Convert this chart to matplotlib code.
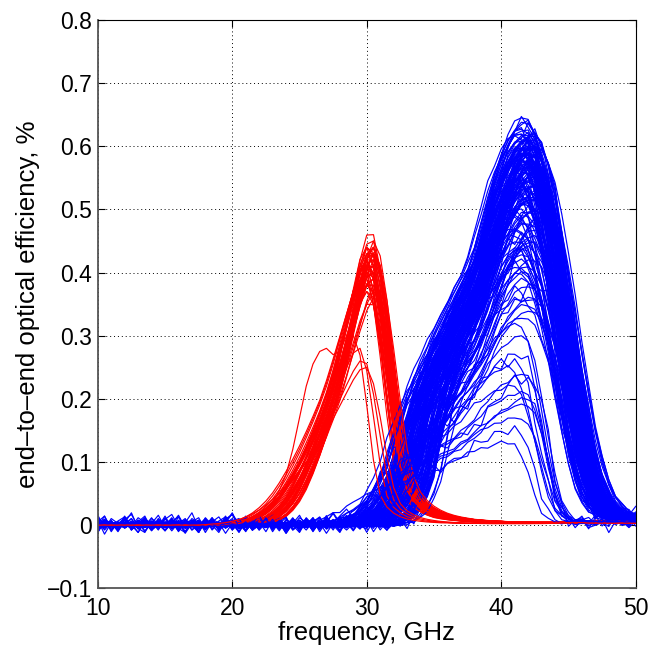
import numpy as np
import matplotlib
matplotlib.use("Agg")
import matplotlib.pyplot as plt

plt.rcParams['font.family'] = ['Liberation Sans', 'DejaVu Sans']

# frequency grid, GHz
freq = np.arange(10.0, 50.01, 0.5)

red_template = [0]*22 + [
    0.001, 0.003, 0.005, 0.009, 0.015, 0.024, 0.036, 0.052, 0.072, 0.095,
    0.120, 0.148, 0.178, 0.210, 0.250, 0.295, 0.340, 0.385, 0.420, 0.420,
    0.365, 0.285, 0.195, 0.115, 0.068, 0.046, 0.034, 0.026, 0.020, 0.016,
    0.013, 0.011, 0.009, 0.008, 0.007] + [
    0.006, 0.006, 0.005, 0.005, 0.005, 0.004, 0.004, 0.004, 0.004, 0.004,
    0.004, 0.004, 0.004, 0.004, 0.004, 0.004, 0.005, 0.005, 0.006, 0.007,
    0.007, 0.007, 0.006, 0.005]
red_peak_f = 30.25

blue_template = [0]*42 + [
    0.003, 0.006, 0.012, 0.022, 0.038, 0.065, 0.100, 0.155, 0.205, 0.240,
    0.270, 0.300, 0.325, 0.350, 0.375, 0.400, 0.440, 0.485, 0.525, 0.555,
    0.580, 0.595, 0.600, 0.585, 0.550, 0.500, 0.435, 0.360, 0.280, 0.205,
    0.140, 0.090, 0.056, 0.036, 0.024, 0.017, 0.013, 0.011, 0.010]
blue_peak_f = 42.0

# odd red detector with an early shoulder
red_odd = [0]*22 + [
    0.002, 0.005, 0.010, 0.020, 0.035, 0.055, 0.080, 0.120, 0.170, 0.220,
    0.255, 0.275, 0.280, 0.270, 0.275, 0.300, 0.330, 0.360, 0.380, 0.370,
    0.300, 0.200, 0.120, 0.070, 0.045, 0.030, 0.022, 0.016, 0.012] + [
    0.010, 0.009, 0.008, 0.007, 0.007, 0.006, 0.006, 0.005, 0.005, 0.005,
    0.005, 0.004, 0.004, 0.004, 0.004, 0.004, 0.004, 0.004, 0.004, 0.004,
    0.005, 0.005, 0.005, 0.006, 0.006, 0.007, 0.007, 0.006, 0.006, 0.005]

# ---- per-detector parameters: peak value, shift (GHz), left/right width ----
red_amp = [0.42, 0.44, 0.40, 0.43, 0.38, 0.45, 0.41, 0.39, 0.43, 0.42,
           0.36, 0.44, 0.40, 0.46, 0.41, 0.43, 0.37, 0.42, 0.44, 0.39,
           0.41, 0.43, 0.40, 0.45, 0.38, 0.42, 0.44, 0.41, 0.35, 0.43,
           0.40, 0.42, 0.44, 0.39, 0.41, 0.43, 0.37, 0.42, 0.40, 0.44,
           0.41, 0.38, 0.43, 0.42, 0.40, 0.39, 0.44, 0.41, 0.43, 0.37,
           0.28, 0.26, 0.30, 0.25]
red_shift = [0.0, 0.2, -0.3, 0.1, -0.1, 0.3, -0.4, 0.2, 0.0, -0.2,
             0.4, -0.1, 0.1, 0.0, -0.3, 0.3, -0.2, 0.1, 0.2, -0.4,
             0.0, 0.3, -0.1, 0.1, 0.4, -0.3, 0.2, -0.2, 0.0, 0.1,
             -0.4, 0.3, -0.1, 0.2, 0.0, -0.2, 0.4, -0.3, 0.1, 0.2,
             -0.1, 0.0, 0.3, -0.2, 0.1, 0.2, -0.3, 0.0, 0.3, -0.1,
             -0.8, -0.5, -1.2, -0.3]
red_wl = [1.0, 0.9, 1.1, 0.95, 1.15, 0.88, 1.05, 1.2, 0.92, 1.0,
          1.1, 0.85, 1.03, 0.97, 1.18, 0.9, 1.08, 1.0, 0.93, 1.12,
          0.96, 1.05, 0.87, 1.1, 1.0, 0.94, 1.15, 0.9, 1.06, 0.98,
          1.2, 0.92, 1.02, 1.08, 0.86, 1.0, 1.13, 0.95, 1.04, 0.9,
          1.1, 0.97, 1.0, 1.16, 0.93, 1.22, 0.89, 1.07, 0.99, 1.14,
          1.1, 1.2, 1.0, 1.3]
red_wr = [1.0, 1.05, 0.92, 1.1, 0.95, 1.0, 1.08, 0.9, 1.03, 0.97,
          1.12, 0.94, 1.0, 1.06, 0.9, 1.02, 0.96, 1.1, 0.93, 1.0,
          1.05, 0.88, 1.08, 0.97, 1.0, 1.13, 0.92, 1.04, 0.95, 1.1,
          0.9, 1.0, 1.07, 0.94, 1.02, 1.11, 0.96, 1.0, 0.89, 1.06,
          0.98, 1.03, 0.93, 1.0, 1.08, 0.95, 1.04, 0.91, 1.1, 1.0,
          0.75, 0.8, 0.7, 0.85]

blue_amp = [0.58, 0.61, 0.55, 0.63, 0.52, 0.60, 0.57, 0.49, 0.62, 0.59,
            0.54, 0.64, 0.56, 0.47, 0.60, 0.58, 0.53, 0.61, 0.44, 0.57,
            0.62, 0.55, 0.59, 0.50, 0.63, 0.56, 0.60, 0.41, 0.58, 0.54,
            0.61, 0.57, 0.52, 0.65, 0.59, 0.46, 0.60, 0.55, 0.62, 0.58,
            0.53, 0.60, 0.38, 0.57, 0.61, 0.56, 0.63, 0.51, 0.59, 0.55,
            0.62, 0.48, 0.58, 0.60, 0.54, 0.64, 0.57, 0.43, 0.61, 0.56,
            0.59, 0.52, 0.62, 0.58, 0.35, 0.60, 0.55, 0.63, 0.57, 0.50,
            0.61, 0.59, 0.54, 0.45, 0.62, 0.58, 0.56, 0.60, 0.53, 0.64,
            0.57, 0.40, 0.61, 0.55, 0.59, 0.62, 0.48, 0.58, 0.60, 0.56,
            0.45, 0.52, 0.39, 0.58, 0.47, 0.61, 0.42, 0.55, 0.50, 0.36,
            0.60, 0.44, 0.53, 0.33, 0.57, 0.49, 0.62, 0.41, 0.54, 0.46,
            0.51, 0.59, 0.37, 0.48, 0.56, 0.43, 0.60, 0.52, 0.40, 0.58,
            0.55, 0.46, 0.61, 0.50, 0.34, 0.57, 0.44, 0.53, 0.62, 0.49,
            0.42, 0.56, 0.51, 0.59, 0.47, 0.38, 0.54, 0.60, 0.45, 0.52,
            0.58, 0.41, 0.49, 0.55, 0.61, 0.44, 0.57, 0.36, 0.53, 0.50,
            0.27, 0.24, 0.22, 0.20, 0.17, 0.15, 0.25, 0.19, 0.30, 0.13,
            0.23, 0.32, 0.21, 0.26]
blue_shift = [-0.3, 0.2, -0.6, 0.0, 0.5, -0.2, 0.8, -0.9, 0.1, -0.4,
              0.4, -0.1, -0.7, 0.6, 0.3, -0.5, 0.9, 0.0, -0.3, 0.2,
              -0.8, 0.5, -0.1, 0.7, -0.4, 0.1, 0.4, -0.6, -0.2, 0.8,
              0.0, -0.5, 0.3, -0.3, 0.6, -0.9, 0.2, -0.1, 0.5, -0.7,
              1.0, -0.2, 0.1, 0.4, -0.4, 0.7, -0.6, 0.0, 0.3, -0.8,
              0.6, -0.3, 0.2, -0.5, 0.9, -0.1, 0.4, -0.7, 0.1, 0.5,
              -0.2, 0.8, -0.4, 0.3, 0.0, -0.6, 0.6, -0.2, 0.2, -0.9,
              0.5, -0.3, 0.7, 0.1, -0.5, 0.4, -0.1, 0.9, -0.7, 0.0,
              0.3, -0.4, 0.6, -0.8, 0.2, -0.2, 1.1, -0.5, 0.4, 0.1,
              -0.6, 0.3, -0.2, 0.7, -0.9, 0.0, 0.5, -0.4, 0.2, -0.1,
              0.8, -0.5, 0.1, -0.3, 0.6, -0.7, 0.3, 0.0, -0.2, 0.4,
              -0.1, 0.5, -0.8, 0.2, 0.9, -0.4, 0.0, 0.6, -0.6, 0.3,
              0.1, -0.3, 0.7, -0.5, 0.4, -0.1, 0.2, -0.9, 0.5, 0.0,
              -0.4, 0.6, -0.2, 0.3, -0.7, 0.8, -0.5, 0.1, 0.4, -0.3,
              0.2, -0.6, 0.9, -0.1, 0.5, -0.8, 0.0, 0.3, -0.4, 0.7,
              -0.4, -0.1, -1.0, 0.2, -0.6, -0.8, -1.4, 0.0, -0.3, -1.2,
              0.4, -0.7, -0.2, -0.9]
blue_wl = [1.0, 0.9, 1.1, 0.95, 1.25, 1.15, 0.9, 1.0, 1.2, 0.85,
           1.3, 0.95, 1.1, 1.0, 0.9, 1.15, 1.4, 1.05, 1.0, 0.88,
           1.1, 1.2, 0.92, 1.18, 0.97, 1.35, 0.9, 1.1, 1.0, 1.25,
           1.12, 0.9, 1.3, 1.0, 0.87, 1.2, 0.98, 1.08, 1.38, 1.0,
           1.45, 1.1, 1.05, 0.9, 1.15, 1.3, 0.92, 1.07, 0.97, 1.13,
           1.0, 0.88, 1.1, 0.95, 1.32, 1.17, 0.9, 1.05, 1.22, 0.93,
           1.1, 0.97, 1.2, 0.9, 1.05, 1.0, 1.28, 1.12, 0.98, 1.06,
           0.9, 1.15, 1.35, 0.95, 1.08, 0.92, 1.1, 1.4, 0.96, 1.04,
           1.13, 0.9, 1.0, 1.07, 0.94, 1.1, 1.3, 1.02, 0.91, 1.16,
           1.2, 1.05, 0.95, 1.3, 1.1, 1.0, 1.25, 0.9, 1.15, 1.4,
           1.35, 1.0, 1.2, 0.95, 1.1, 1.28, 0.92, 1.05, 1.18, 1.0,
           1.08, 1.3, 0.98, 1.15, 1.42, 0.9, 1.1, 1.22, 1.0, 1.05,
           0.95, 1.25, 1.12, 1.0, 1.33, 0.9, 1.18, 1.05, 1.27, 1.1,
           1.2, 1.0, 1.38, 0.93, 1.1, 1.26, 0.97, 1.15, 1.05, 1.3,
           1.02, 1.22, 0.9, 1.12, 1.35, 1.0, 1.17, 1.08, 0.95, 1.28,
           1.3, 1.2, 1.4, 1.25, 1.5, 1.35, 1.1, 1.45, 1.2, 1.6,
           1.3, 1.15, 1.4, 1.25]
blue_wr = [1.0, 1.05, 0.95, 1.1, 0.9, 1.0, 1.08, 0.92, 1.02, 0.97,
           1.12, 0.95, 1.0, 0.88, 1.06, 0.98, 1.1, 0.93, 1.0, 1.04,
           0.9, 1.07, 1.0, 0.96, 1.13, 0.92, 1.03, 0.98, 1.09, 0.94,
           1.0, 1.05, 0.9, 1.11, 0.97, 1.02, 0.93, 1.08, 1.0, 0.95,
           1.06, 0.91, 1.0, 1.12, 0.96, 1.03, 0.89, 1.07, 0.99, 1.04,
           0.94, 1.1, 0.98, 1.02, 0.9, 1.06, 1.0, 0.95, 1.13, 0.97,
           1.03, 0.92, 1.08, 1.0, 0.96, 1.1, 0.94, 1.05, 0.9, 1.02,
           1.07, 0.98, 0.93, 1.11, 1.0, 0.95, 1.04, 0.9, 1.09, 0.97,
           1.0, 1.06, 0.92, 1.03, 0.98, 1.12, 0.95, 1.0, 1.07, 0.93,
           0.96, 1.04, 1.1, 0.91, 1.0, 1.08, 0.94, 1.02, 0.89, 1.05,
           1.09, 0.93, 1.0, 1.06, 0.97, 1.11, 0.9, 1.03, 0.99, 1.07,
           0.92, 1.02, 1.08, 0.95, 1.0, 1.13, 0.96, 1.04, 0.91, 1.06,
           1.05, 0.97, 1.0, 1.1, 0.93, 1.03, 1.08, 0.94, 1.01, 0.9,
           0.98, 1.07, 0.92, 1.04, 1.11, 0.96, 1.0, 1.06, 0.93, 1.09,
           1.03, 0.95, 1.08, 0.99, 0.92, 1.05, 1.1, 0.97, 1.02, 0.94,
           0.55, 0.5, 0.6, 0.45, 0.65, 0.5, 0.7, 0.55, 0.6, 0.5,
           0.45, 0.65, 0.55, 0.6]

# measured baseline ripple patterns (units of 0.01)
noise_a = [0.5, -0.3, 0.8, 0.2, -0.6, 0.4, 1.0, -0.2, 0.3,
           -0.8, 0.6, 0.1, -0.4, 0.9, -0.1, 0.5, -0.7, 0.2,
           1.2, -0.3, 0.4, -0.5, 0.7, 0.0, -0.9, 0.6, 0.3,
           -0.2, 1.1, -0.4, 0.2, 0.8, -0.6, 0.5, -0.1, 0.9,
           -0.5, 0.3, 0.6, -0.8, 0.4, 0.1, -0.3, 0.7, -0.2,
           0.5, 1.0, -0.6, 0.2, 0.4, -0.4, 0.8, -0.1, 0.3,
           -0.7, 0.6, 0.2, -0.5, 0.9, 0.0, -0.3, 0.5, -0.6,
           0.7, 0.1, -0.2, 0.4, -0.8, 0.6, 0.3, -0.1, 0.5,
           -0.4, 0.2, 0.8, -0.5, 0.3, 0.1, -0.2, 0.4, 0.2]
noise_b = [-0.4, 0.2, -0.9, 0.5, 0.1, -0.3, 0.7, 1.3, -0.2,
           0.4, -0.6, 0.0, 0.8, -0.5, 0.3, -1.0, 0.2, 0.6,
           -0.1, 0.9, -0.4, 0.3, 1.4, 0.1, -0.6, 0.2, -0.3,
           0.7, -0.8, 0.4, 0.0, -0.2, 0.9, 0.3, -0.7, 0.5,
           0.1, -0.4, 1.0, -0.3, 0.2, 0.6, -0.9, 0.4, 0.0,
           -0.2, 0.5, 0.8, -0.6, 0.3, -0.1, 0.7, -0.4, 0.2,
           0.9, -0.5, 0.1, 0.4, -0.7, 0.3, 0.6, -0.2, 0.0,
           -0.5, 0.8, 0.2, -0.3, 0.5, -0.1, 0.7, -0.6, 0.3,
           0.1, -0.4, 0.6, 0.0, -0.2, 0.5, -0.3, 0.2, 0.4]
noise_c = [0.2, 0.9, -0.5, -0.2, 0.6, -1.1, 0.3, 0.0, 0.7,
           -0.3, 0.4, 1.1, -0.6, 0.2, -0.1, 0.8, -0.4, -0.9,
           0.5, 0.1, -0.2, 0.6, -0.7, 0.3, 1.5, -0.4, 0.0,
           0.4, -0.6, 0.9, -0.1, 0.3, -0.8, 0.5, 0.2, -0.3,
           0.7, -0.5, 0.0, 0.4, -0.2, 0.8, -0.6, 0.3, 0.5,
           -0.4, 0.1, -0.7, 0.6, 0.2, -0.3, 0.4, 0.9, -0.5,
           0.0, 0.3, -0.2, 0.6, -0.4, 0.1, 0.7, -0.6, 0.2,
           0.4, -0.1, -0.5, 0.8, 0.0, -0.3, 0.5, 0.2, -0.4,
           0.6, -0.2, 0.1, 0.3, -0.5, 0.4, 0.0, -0.1, 0.3]
noisy_blue = [3, 11, 19, 27, 36, 48, 57, 70, 82, 93, 99, 104, 112, 121,
              128, 135, 143, 150, 155, 160, 163]

# ---------------------------------------------------------------------------
red_t = np.array(red_template, float)
blue_t = np.array(blue_template, float)
noises = [np.array(n, float) for n in (noise_a, noise_b, noise_c)]


def band(template, peak_f, amp, shift, wl, wr):
    rel = freq - (peak_f + shift)
    g = np.where(rel < 0, peak_f + rel / wl, peak_f + rel / wr)
    return np.interp(g, freq, template) * amp / template.max()


red_curves = [band(red_t, red_peak_f, a, s, l, r)
              for a, s, l, r in zip(red_amp, red_shift, red_wl, red_wr)]
red_curves.insert(20, np.array(red_odd, float))

blue_curves = []
for i, (a, s, l, r) in enumerate(zip(blue_amp, blue_shift, blue_wl, blue_wr)):
    y = band(blue_t, blue_peak_f, a, s, l, r)
    lvl = 1.3 if i in noisy_blue else 0.35
    y = y + 0.01 * lvl * np.roll(noises[i % 3], (i * 13) % 81)
    blue_curves.append(y)

fig = plt.figure(figsize=(6.52, 6.45), dpi=100)
ax = fig.add_axes([0.150, 0.088, 0.825, 0.881])

LW = 0.85
ri = 0
for i, yb in enumerate(blue_curves):
    ax.plot(freq, yb, color=(0, 0, 1), lw=LW)
    if i % 3 == 2 and ri < len(red_curves):
        ax.plot(freq, red_curves[ri], color=(1, 0, 0), lw=LW)
        ri += 1
while ri < len(red_curves):
    ax.plot(freq, red_curves[ri], color=(1, 0, 0), lw=LW)
    ri += 1

ax.set_xlim(10, 50)
ax.set_ylim(-0.1, 0.8)
xt = [10, 20, 30, 40, 50]
yt = [-0.1, 0, 0.1, 0.2, 0.3, 0.4, 0.5, 0.6, 0.7, 0.8]
ytl = ['\u22120.1', '0', '0.1', '0.2', '0.3', '0.4', '0.5', '0.6', '0.7', '0.8']
ax.set_xticks(xt)
ax.set_xticklabels([str(v) for v in xt])
ax.set_yticks(yt)
ax.set_yticklabels(ytl)
ax.tick_params(direction='in', length=5, width=0.8, top=True, right=True,
               labelsize=16.5, colors='black')
ax.tick_params(axis='x', pad=6)
ax.tick_params(axis='y', pad=4)
ax.set_axisbelow(True)
ax.grid(True, color='black', linestyle=(0, (1, 3)), linewidth=0.7)
for side in ('top', 'right'):
    ax.spines[side].set_color('black')
    ax.spines[side].set_linewidth(0.8)
for side in ('left', 'bottom'):
    ax.spines[side].set_color('#555555')
    ax.spines[side].set_linewidth(1.3)

ax.set_xlabel('frequency, GHz', fontsize=18.5, labelpad=1)
ax.set_ylabel('end\u2013to\u2013end optical efficiency, %', fontsize=18.5, labelpad=5)

fig.savefig('out.png', dpi=100)
